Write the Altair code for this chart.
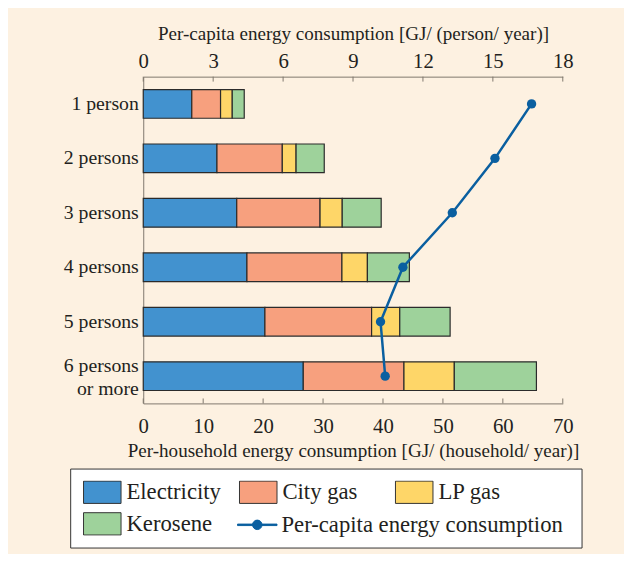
import altair as alt
import pandas as pd

# ---------------- data ----------------
households = ["1 person", "2 persons", "3 persons", "4 persons", "5 persons", "6 persons\nor more"]
series_names = ["Electricity", "City gas", "LP gas", "Kerosene"]
electricity = [8.1, 12.3, 15.6, 17.3, 20.3, 26.7]
city_gas = [4.8, 10.9, 13.9, 15.85, 17.8, 16.8]
lp_gas = [1.95, 2.3, 3.7, 4.25, 4.7, 8.4]
kerosene = [2.0, 4.7, 6.5, 7.0, 8.4, 13.7]
per_capita = [16.66, 15.09, 13.26, 11.14, 10.18, 10.38]
line_name = "Per-capita energy consumption"
bottom_ticks = [0, 10, 20, 30, 40, 50, 60, 70]
top_ticks = [0, 3, 6, 9, 12, 15, 18]

# ---------------- style ----------------
bar_colors = ["#4292CF", "#F7A07E", "#FED668", "#9ED29B"]
line_color = "#0A5FA0"
bg = "#FDF1E1"
axis_color = "#7F776D"
text_color = "#231F20"
font = "Liberation Serif"
W, H = 425, 331

rect_path = "M-0.95,-0.565H0.95V0.565H-0.95Z"
line_path = ("M-1,-0.0375H1V0.0375H-1Z "
             "M0.24,0A0.24,0.24 0 1 1 -0.24,0A0.24,0.24 0 1 1 0.24,0Z")

# ---------------- tables ----------------
rows = []
for i, h in enumerate(households):
    for k, (name, vals) in enumerate(zip(series_names, [electricity, city_gas, lp_gas, kerosene])):
        rows.append({"household": h, "series": name, "value": vals[i], "ord": k})
bar_df = pd.DataFrame(rows)
pc_df = pd.DataFrame({"household": households, "pc": per_capita,
                      "idx": list(range(len(households))), "series": [line_name] * len(households)})

yscale = alt.Scale(domain=households, paddingInner=0.473, paddingOuter=0.2365)

yaxis = alt.Axis(title=None, ticks=False, labelFont=font, labelFontSize=20,
                 labelColor=text_color, labelPadding=5, domainColor=axis_color,
                 labelExpr="split(datum.label, '\\n')", labelLineHeight=23, grid=False,
                 labelOffset={"condition": {"test": "indexof(datum.value, '\\n') >= 0", "value": -10},
                              "value": 0})

bottom_axis = alt.Axis(orient="bottom", values=bottom_ticks, format="d", ticks=False,
                       grid=False, labelFlush=False, labelFont=font, labelFontSize=21,
                       labelColor=text_color, labelPadding=12, domainColor=axis_color,
                       title="Per-household energy consumption [GJ/ (household/ year)]",
                       titleFont=font, titleFontSize=19.3, titleFontWeight="normal",
                       titleColor=text_color, titlePadding=6)

top_axis = alt.Axis(orient="top", values=top_ticks, format="d", ticks=False,
                    grid=False, labelFlush=False, labelFont=font, labelFontSize=21,
                    labelColor=text_color, labelPadding=5, domainColor=axis_color,
                    title="Per-capita energy consumption [GJ/ (person/ year)]",
                    titleFont=font, titleFontSize=19.3, titleFontWeight="normal",
                    titleColor=text_color, titlePadding=8)

legend_bars = alt.Legend(title=" ", titleOrient="right", titleFontSize=10, titlePadding=70,
                         orient="none", legendX=-74, legendY=397, columns=3,
                         direction="horizontal", gridAlign="all", columnPadding=17, rowPadding=8,
                         padding=12, clipHeight=24, symbolType=rect_path, symbolSize=1600,
                         symbolOpacity=1, symbolStrokeColor="#333333", symbolStrokeWidth=1,
                         labelFont=font, labelFontSize=23, labelColor=text_color, labelOffset=4,
                         labelLimit=500, strokeColor="#333333", fillColor="white")

legend_line = alt.Legend(title=None, orient="none", legendX=95, legendY=442, padding=0,
                         clipHeight=24, symbolType=line_path, symbolSize=1600, symbolOpacity=1,
                         symbolStrokeColor=line_color, symbolFillColor=line_color,
                         symbolStrokeWidth=1, labelFont=font, labelFontSize=23,
                         labelColor=text_color, labelOffset=4, labelLimit=500, zindex=2)

bars = alt.Chart(bar_df).mark_bar(stroke="#2B2B2B", strokeWidth=1.2).encode(
    x=alt.X("value:Q", stack="zero", scale=alt.Scale(domain=[0, 70], nice=False), axis=bottom_axis),
    y=alt.Y("household:N", sort=households, scale=yscale, axis=yaxis),
    color=alt.Color("series:N", scale=alt.Scale(domain=series_names, range=bar_colors), legend=legend_bars),
    order=alt.Order("ord:Q"),
)

bticks = alt.Chart(pd.DataFrame({"v": bottom_ticks})).mark_rule(color=axis_color, strokeWidth=1).encode(
    x=alt.X("v:Q", scale=alt.Scale(domain=[0, 70], nice=False), axis=None),
    y=alt.value(H), y2=alt.value(H - 5),
)

line = alt.Chart(pc_df).mark_line(color=line_color, strokeWidth=2.5).encode(
    x=alt.X("pc:Q", scale=alt.Scale(domain=[0, 18], nice=False), axis=top_axis),
    y=alt.Y("household:N", sort=households, scale=yscale, axis=yaxis),
    order=alt.Order("idx:Q"),
)

pts = alt.Chart(pc_df).mark_point(filled=True, size=90, opacity=1).encode(
    x=alt.X("pc:Q", scale=alt.Scale(domain=[0, 18], nice=False), axis=None),
    y=alt.Y("household:N", sort=households, scale=yscale, axis=yaxis),
    color=alt.Color("series:N", scale=alt.Scale(domain=[line_name], range=[line_color]), legend=legend_line),
)

tticks = alt.Chart(pd.DataFrame({"v": top_ticks})).mark_rule(color=axis_color, strokeWidth=1).encode(
    x=alt.X("v:Q", scale=alt.Scale(domain=[0, 18], nice=False), axis=None),
    y=alt.value(0), y2=alt.value(5),
)

chart = alt.layer(
    bars, bticks, line, pts, tticks,
).resolve_scale(
    x="independent", color="independent"
).properties(
    width=W, height=H,
    autosize=alt.AutoSizeParams(type="none"),
    padding={"left": 137, "top": 66, "right": 62, "bottom": 149},
    background=bg,
).configure_view(stroke=None)

chart.save("out.html", embed_options={"renderer": "svg", "actions": False})
